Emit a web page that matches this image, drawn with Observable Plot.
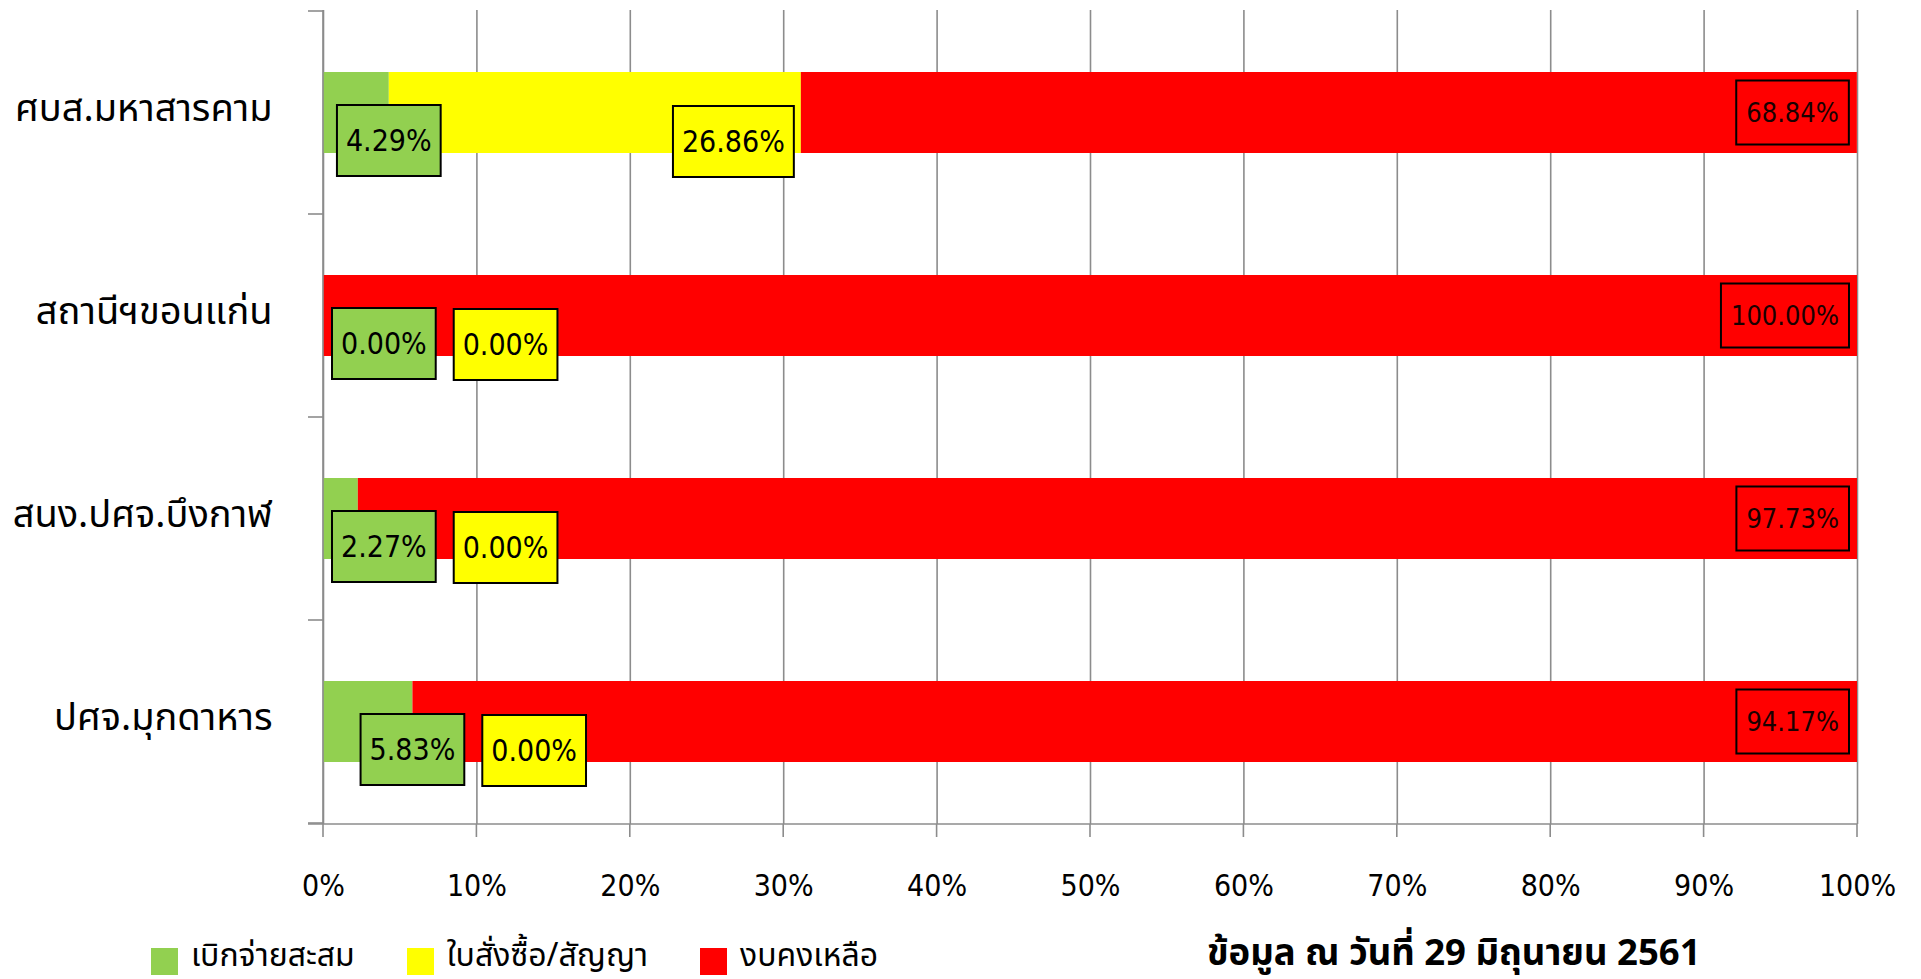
<!DOCTYPE html>
<html>
<head>
<meta charset="utf-8">
<script src="https://cdn.jsdelivr.net/npm/d3@7"></script>
<script src="https://cdn.jsdelivr.net/npm/@observablehq/plot@0.6"></script>
<style>
  html, body { margin: 0; padding: 0; background: #fff; }
  body { width: 1921px; height: 979px; overflow: hidden; position: relative;
         font-family: "Noto Sans Thai", "Noto Sans Thai UI", "Noto Sans", "DejaVu Sans", sans-serif; }
  #chart { position: absolute; left: 0; top: 0; }
  #legend { position: absolute; left: 151px; top: 936px; height: 40px; display: flex; align-items: center; font-size: 32px; line-height: 1; color: #000; }
  #legend .item { display: flex; align-items: center; margin-right: 52px; }
  #legend .sw { width: 27px; height: 27px; margin-right: 13px; flex: none; position: relative; top: 5px; }
  #caption { position: absolute; left: 1207px; top: 933px; font-size: 36.5px; line-height: 1.15; font-weight: bold; color: #000; white-space: nowrap; }
  g[aria-label^="y-axis"] text { font-size: 38px; font-family: "Noto Sans Thai", "Noto Sans Thai UI", "Noto Sans", sans-serif; fill: #000; }
  g[aria-label^="x-axis"] text { font-size: 30px; font-family: "DejaVu Sans Condensed", "Liberation Sans Narrow", sans-serif; fill: #000; }
</style>
</head>
<body>
<div id="chart"></div>
<div id="legend"></div>
<div id="caption"></div>
<script>
// ---- data ----
const categories = ["ศบส.มหาสารคาม", "สถานีฯขอนแก่น", "สนง.ปศจ.บึงกาฬ", "ปศจ.มุกดาหาร"];
const seriesNames = ["เบิกจ่ายสะสม", "ใบสั่งซื้อ/สัญญา", "งบคงเหลือ"];
const disbursed = [4.29, 0.00, 2.27, 5.83];
const contracted = [26.86, 0.00, 0.00, 0.00];
const remaining = [68.84, 100.00, 97.73, 94.17];
const xTicks = [0, 10, 20, 30, 40, 50, 60, 70, 80, 90, 100];
const captionText = "ข้อมูล ณ วันที่ 29 มิถุนายน 2561";

// ---- styling ----
const seriesColors = ["#92d050", "#ffff00", "#ff0000"];
const gridColor = "#8c8c8c";
const labelFont = "'DejaVu Sans Condensed', 'Liberation Sans Narrow', sans-serif";
const labelSize = 30;
const redLabelSize = 27;

const seriesValues = [disbursed, contracted, remaining];
const table = [];
categories.forEach((c, i) => {
  seriesNames.forEach((s, j) => table.push({cat: c, series: s, si: j, value: seriesValues[j][i]}));
});

const fmt = v => v.toFixed(2) + "%";
const ctx = document.createElement("canvas").getContext("2d");
const textW = (t, size) => { ctx.font = `${size}px ${labelFont}`; return ctx.measureText(t).width; };

function bandInfo(y) {
  const p0 = y(categories[0]);
  const step = categories.length > 1 ? y(categories[1]) - p0 : 0;
  const bw = (typeof y.bandwidth === "number") ? y.bandwidth : (typeof y.bandwidth === "function" ? y.bandwidth() : step * 0.4);
  return {step, bw};
}

function axisMark(index, scales, values, dims) {
  const {x, y} = scales;
  const g = d3.create("svg:g").attr("stroke", gridColor).attr("stroke-width", 1.6).attr("fill", "none");
  const top = dims.marginTop, bottom = dims.height - dims.marginBottom;
  const left = x(0), right = x(100);
  for (const t of xTicks) {
    g.append("line").attr("x1", x(t)).attr("x2", x(t)).attr("y1", bottom).attr("y2", bottom + 13);
  }
  g.append("line").attr("x1", left - 15).attr("x2", right).attr("y1", bottom).attr("y2", bottom);
  g.append("line").attr("x1", left).attr("x2", left).attr("y1", top).attr("y2", bottom);
  const {step, bw} = bandInfo(y);
  const half = (step - bw) / 2;
  const bounds = categories.map(c => y(c) - half);
  bounds.push(y(categories[categories.length - 1]) + bw + half);
  for (const b of bounds) {
    g.append("line").attr("x1", left - 15).attr("x2", left).attr("y1", b).attr("y2", b);
  }
  return g.node();
}

function labelMark(index, scales, values, dims) {
  const {x, y} = scales;
  const {bw} = bandInfo(y);
  const g = d3.create("svg:g");
  const pad = 9;
  categories.forEach((c, i) => {
    const cy = y(c) + bw / 2;
    const x0 = x(0);
    let cum = 0;
    const ends = seriesValues.map(arr => { cum += arr[i]; return x(cum); });
    const starts = [x0, ends[0], ends[1]];
    const boxes = [];
    {
      const t = fmt(disbursed[i]);
      const w = textW(t, labelSize) + 2 * pad;
      const cx = Math.max(x0 + w / 2 + 9, ends[0]);
      boxes.push({t, w, h: 71, cx, cy: cy + 28, fill: seriesColors[0], color: "#000", size: labelSize});
    }
    {
      const t = fmt(contracted[i]);
      const w = textW(t, labelSize) + 2 * pad;
      let cx;
      if (ends[1] - starts[1] > w + 20) cx = ends[1] - 7 - w / 2;
      else { const gb = boxes[0]; cx = gb.cx + gb.w / 2 + 18 + w / 2; }
      boxes.push({t, w, h: 71, cx, cy: cy + 29, fill: seriesColors[1], color: "#000", size: labelSize});
    }
    {
      const t = fmt(remaining[i]);
      const w = textW(t, redLabelSize) + 2 * 10;
      const cx = ends[2] - 8 - w / 2;
      boxes.push({t, w, h: 64, cx, cy, fill: seriesColors[2], color: "#1a0000", size: redLabelSize});
    }
    for (const b of boxes) {
      g.append("rect").attr("x", b.cx - b.w / 2).attr("y", b.cy - b.h / 2).attr("width", b.w).attr("height", b.h)
        .attr("fill", b.fill).attr("stroke", "#000").attr("stroke-width", 2);
      g.append("text").attr("x", b.cx).attr("y", b.cy).attr("text-anchor", "middle").attr("dy", "0.36em")
        .attr("font-family", labelFont).attr("font-size", b.size).attr("fill", b.color).text(b.t);
    }
  });
  return g.node();
}

const chart = Plot.plot({
  width: 1921,
  height: 915,
  marginLeft: 323,
  marginRight: 64,
  marginTop: 10,
  marginBottom: 91,
  style: {background: "transparent", color: "#000", fontSize: "30px", overflow: "visible"},
  x: {domain: [0, 100], ticks: xTicks, tickFormat: d => d + "%", tickSize: 0, tickPadding: 50, label: null},
  y: {domain: categories, paddingInner: 0.6, paddingOuter: 0.3, tickSize: 0, tickPadding: 51, label: null},
  color: {domain: seriesNames, range: seriesColors},
  marks: [
    Plot.ruleX(xTicks, {x: d => d, stroke: gridColor, strokeWidth: 1.6}),
    Plot.barX(table, Plot.stackX({x: "value", y: "cat", fill: "series"})),
    axisMark,
    labelMark
  ]
});
d3.select(chart).selectAll('g[aria-label^="y-axis"] text').attr("dy", "-0.1em");
document.getElementById("chart").appendChild(chart);

const legend = d3.select("#legend");
seriesNames.forEach((s, j) => {
  const it = legend.append("div").attr("class", "item");
  it.append("div").attr("class", "sw").style("background", seriesColors[j]);
  it.append("span").text(s);
});
document.getElementById("caption").textContent = captionText;
</script>
</body>
</html>
